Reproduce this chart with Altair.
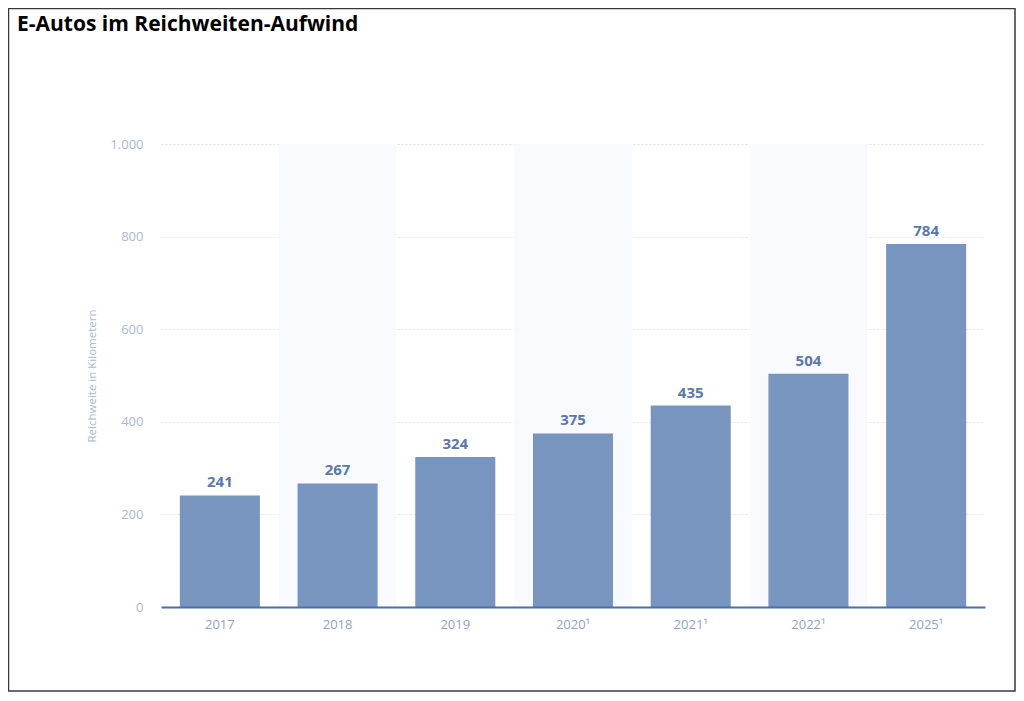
import altair as alt
import pandas as pd

# --- data ---
years = ["2017", "2018", "2019", "2020¹", "2021¹", "2022¹", "2025¹"]
ranges_km = [241, 267, 324, 375, 435, 504, 784]
shaded_years = ["2018", "2020¹", "2022¹"]
y_ticks = [0, 200, 400, 600, 800, 1000]

title_text = "E-Autos im Reichweiten-Aufwind"
y_title = "Reichweite in Kilometern"

df = pd.DataFrame({"year": years, "value": ranges_km})
shade_df = pd.DataFrame({"year": shaded_years})

W, H = 824, 463
PAD = {"left": 153, "top": 136, "right": 31, "bottom": 85}

x_scale = alt.Scale(domain=years, paddingInner=0, paddingOuter=0)
y_scale = alt.Scale(domain=[0, 1000], nice=False)

x_axis = alt.Axis(
    title=None, labelAngle=0, ticks=False, domain=True,
    domainColor="#4c6fa6", domainWidth=2,
    labelColor="#8fa3c8", labelFontSize=13, labelFont="Open Sans",
    labelPadding=11, grid=False,
)
y_axis = alt.Axis(
    title=y_title, values=y_ticks, ticks=False, domain=False,
    labelColor="#a9b9d6", labelFontSize=13, labelFont="Open Sans",
    labelPadding=18, labelExpr="replace(format(datum.value, ','), ',', '.')",
    grid=True, gridColor="#dce3ef", gridDash=[2, 2], gridWidth=1,
    titleColor="#a9b9d6", titleFontSize=11.5, titleFont="Open Sans",
    titleFontWeight="normal", titlePadding=12,
)

shade = alt.Chart(shade_df).mark_rect(color="#f9fafd").encode(
    x=alt.X("year:N", scale=x_scale, axis=x_axis),
    y=alt.value(0),
    y2=alt.value(H),
)

bars = alt.Chart(df).mark_bar(
    color="#7795bf", width=alt.RelativeBandSize(0.68)
).encode(
    x=alt.X("year:N", scale=x_scale, axis=x_axis),
    y=alt.Y("value:Q", scale=y_scale, axis=y_axis),
)

labels = alt.Chart(df).mark_text(
    baseline="bottom", dy=-5, color="#5b78ab", fontSize=15,
    fontWeight="bold", font="Open Sans",
).encode(
    x=alt.X("year:N", scale=x_scale, axis=x_axis),
    y=alt.Y("value:Q", scale=y_scale, axis=y_axis),
    text=alt.Text("value:Q"),
)

one = alt.Data(values=[{}])

frame = alt.Chart(one).mark_rect(
    fillOpacity=0, stroke="#3a3a3a", strokeWidth=1.5
).encode(
    x=alt.value(-152.5), x2=alt.value(W + PAD["right"] - 1),
    y=alt.value(-135.5), y2=alt.value(H + PAD["bottom"] - 1),
)

title = alt.Chart(one).mark_text(
    text=title_text, align="left", baseline="alphabetic",
    font="Open Sans", fontSize=21, fontWeight="bold", color="#000000",
).encode(x=alt.value(-144), y=alt.value(-113))

chart = alt.layer(shade, bars, labels, frame, title).properties(
    width=W, height=H, padding=PAD,
    autosize=alt.AutoSizeParams(type="none"),
    background="white",
).configure_view(stroke=None)

chart.save("out.html", embed_options={"renderer": "svg", "actions": False})
